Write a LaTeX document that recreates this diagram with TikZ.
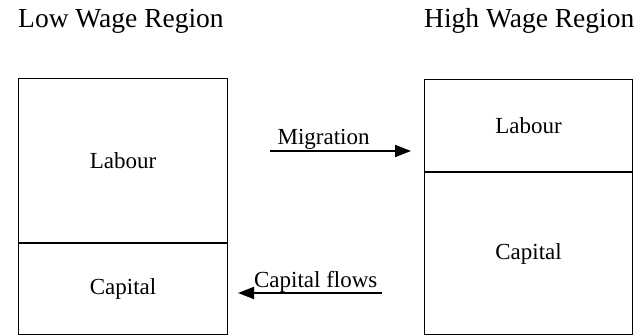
\documentclass[tikz,border=0pt]{standalone}
\usepackage{fontspec}
\setmainfont{Liberation Serif}
\usetikzlibrary{arrows.meta}

\begin{document}
\begin{tikzpicture}[x=1pt,y=-1pt,
	region/.style={draw,line width=1.2pt,inner sep=0pt,font=\fontsize{23}{27}\selectfont},
	flow/.style={line width=1.8pt,-{Triangle[length=16pt,width=12pt]}},
	title/.style={anchor=base west,inner sep=0pt,font=\fontsize{27.5}{32}\selectfont}]
	\useasboundingbox (0,0) rectangle (642,336);
	\node[title] (lowtitle) at (18,28) {Low Wage Region};
	\node[title] (hightitle) at (424,28) {High Wage Region};
	% low wage region
	\node[region,minimum width=209pt,minimum height=164pt,anchor=north west] (lowlab) at (18,78) {Labour};
	\node[region,minimum width=209pt,minimum height=91pt,anchor=north] (lowcap) at (lowlab.south) {Capital};
	% high wage region
	\node[region,minimum width=208pt,minimum height=92pt,anchor=north west] (highlab) at (424,79) {Labour};
	\node[region,minimum width=208pt,minimum height=162pt,anchor=north] (highcap) at (highlab.south) {Capital};
	% flows
	\coordinate (migfrom) at (270,151);
	\coordinate (migto) at (411,151);
	\coordinate (capfrom) at (382,293);
	\coordinate (capto) at (238,293);
	\draw[flow] (migfrom) -- node[pos=0.38,anchor=base,yshift=6pt,inner sep=0pt,font=\fontsize{23}{27}\selectfont] {Migration} (migto);
	\draw[flow] (capfrom) -- node[pos=0.46,anchor=base,yshift=5pt,inner sep=0pt,font=\fontsize{23}{27}\selectfont] {Capital flows} (capto);
\end{tikzpicture}
\end{document}
